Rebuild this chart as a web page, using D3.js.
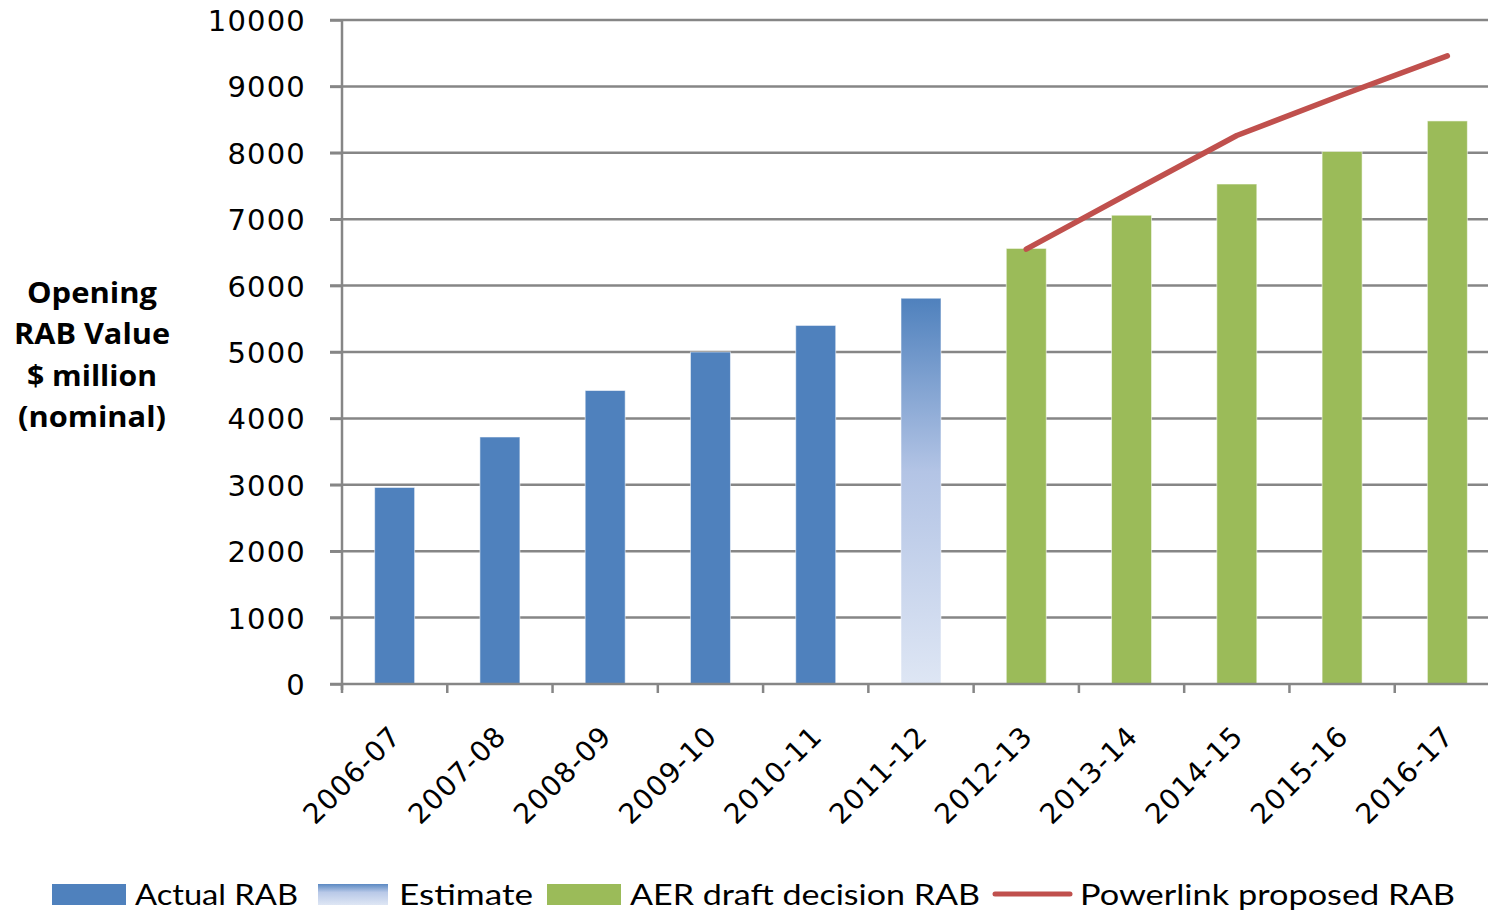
<!DOCTYPE html>
<html>
<head>
<meta charset="utf-8">
<script src="https://cdn.jsdelivr.net/npm/d3@7"></script>
<style>
  html, body { margin: 0; padding: 0; background: #fff; }
  svg { display: block; }
</style>
</head>
<body>
<svg id="chart" width="1488" height="912"></svg>
<script>
// Financial years
const years = ["2006-07","2007-08","2008-09","2009-10","2010-11","2011-12",
               "2012-13","2013-14","2014-15","2015-16","2016-17"];
// Opening RAB, $ million (nominal)
const actualRAB   = [2960, 3720, 4420, 5000, 5400, null, null, null, null, null, null];
const estimateRAB = [null, null, null, null, null, 5810, null, null, null, null, null];
const aerDraftRAB = [null, null, null, null, null, null, 6560, 7060, 7530, 8020, 8480];
const powerlinkRAB = [null, null, null, null, null, null, 6550, 7410, 8260, 8870, 9460];
const yTicks = [0,1000,2000,3000,4000,5000,6000,7000,8000,9000,10000];
const legendLabels = ["Actual RAB", "Estimate", "AER draft decision RAB", "Powerlink proposed RAB"];
const titleLines = ["Opening", "RAB Value", "$ million", "(nominal)"];

(function () {
const svg = d3.select("#chart");
const plotLeft = 342, plotRight = 1500, plotTop = 20, plotBottom = 684;
const gridColor = "#868686";

const x = d3.scaleBand().domain(years).range([plotLeft, plotRight]).paddingInner(0.62).paddingOuter(0.31);
const xEdge = d3.scaleBand().domain(years).range([plotLeft, plotRight]);
const y = d3.scaleLinear().domain([0, 10000]).range([plotBottom, plotTop]);

// Gradients for the estimate bar and its legend swatch
const defs = svg.append("defs");
const grad = defs.append("linearGradient").attr("id", "estGrad")
  .attr("x1", 0).attr("y1", 0).attr("x2", 0).attr("y2", 1);
grad.append("stop").attr("offset", "0%").attr("stop-color", "#4F81BD");
grad.append("stop").attr("offset", "45%").attr("stop-color", "#B3C4E5");
grad.append("stop").attr("offset", "100%").attr("stop-color", "#DEE6F4");
const grad2 = defs.append("linearGradient").attr("id", "estGradLegend")
  .attr("x1", 0).attr("y1", 0).attr("x2", 0).attr("y2", 1);
grad2.append("stop").attr("offset", "0%").attr("stop-color", "#5B89C2");
grad2.append("stop").attr("offset", "40%").attr("stop-color", "#B9C9E8");
grad2.append("stop").attr("offset", "100%").attr("stop-color", "#DEE6F4");

// Horizontal grid lines
svg.append("g").selectAll("line").data(yTicks.slice(1)).join("line")
  .attr("x1", plotLeft - 12).attr("x2", 1488)
  .attr("y1", d => y(d)).attr("y2", d => y(d))
  .attr("stroke", gridColor).attr("stroke-width", 2.5);

// Y axis
const yAxis = svg.append("g").attr("transform", `translate(${plotLeft},0)`)
  .call(d3.axisLeft(y).tickValues(yTicks).tickSize(12).tickPadding(24).tickFormat(d3.format("d")));
yAxis.select(".domain").attr("stroke", gridColor).attr("stroke-width", 2.5)
  .attr("d", `M0,${plotTop}V${plotBottom + 6}`);
yAxis.selectAll(".tick line").attr("stroke", gridColor).attr("stroke-width", 2.5);
yAxis.selectAll(".tick text")
  .attr("font-family", "DejaVu Sans").attr("font-size", 29).attr("fill", "#000")
  .attr("letter-spacing", "1.2px").attr("dy", "0.36em");

// Bars
function bars(values, fill, cls) {
  svg.append("g").attr("class", cls).selectAll("rect")
    .data(years.map((yr, i) => ({yr, v: values[i]})).filter(d => d.v != null))
    .join("rect")
    .attr("x", d => x(d.yr)).attr("width", x.bandwidth())
    .attr("y", d => y(d.v)).attr("height", d => y(0) - y(d.v))
    .attr("fill", fill).attr("stroke", "rgba(255,255,255,0.55)").attr("stroke-width", 1);
}
bars(actualRAB, "#4F81BD", "actual");
bars(estimateRAB, "url(#estGrad)", "estimate");
bars(aerDraftRAB, "#9BBB59", "aer");

// X axis line and category boundary ticks
const xAxisLine = svg.append("g");
xAxisLine.append("line").attr("x1", plotLeft - 12).attr("x2", 1488)
  .attr("y1", plotBottom).attr("y2", plotBottom).attr("stroke", gridColor).attr("stroke-width", 2.5);
xAxisLine.selectAll("line.tk").data(years.concat(["end"])).join("line").attr("class", "tk")
  .attr("x1", (d, i) => plotLeft + i * xEdge.step()).attr("x2", (d, i) => plotLeft + i * xEdge.step())
  .attr("y1", plotBottom).attr("y2", plotBottom + 9)
  .attr("stroke", gridColor).attr("stroke-width", 2.5);

// Rotated category labels
svg.append("g").selectAll("text").data(years).join("text")
  .attr("transform", d => `translate(${x(d) + x.bandwidth() / 2 + 8},${plotBottom + 54}) rotate(-45)`)
  .attr("text-anchor", "end")
  .attr("font-family", "DejaVu Sans").attr("font-size", 28).attr("fill", "#000")
  .attr("letter-spacing", "1px")
  .text(d => d);

// Powerlink proposed line
const lineData = years.map((yr, i) => ({yr, v: powerlinkRAB[i]})).filter(d => d.v != null);
svg.append("path").datum(lineData)
  .attr("d", d3.line().x(d => x(d.yr) + x.bandwidth() / 2).y(d => y(d.v)))
  .attr("fill", "none").attr("stroke", "#C0504D").attr("stroke-width", 5.5)
  .attr("stroke-linecap", "round").attr("stroke-linejoin", "round");

// Y axis title
const titleWidths = [130, 156, 130, 148];
svg.append("g").selectAll("text").data(titleLines).join("text")
  .attr("x", 92).attr("y", (d, i) => 303 + i * 41.3)
  .attr("text-anchor", "middle")
  .attr("font-family", "Open Sans").attr("font-weight", "bold").attr("font-size", 28)
  .attr("textLength", (d, i) => titleWidths[i]).attr("lengthAdjust", "spacingAndGlyphs")
  .attr("fill", "#000").text(d => d);

// Legend
const legend = svg.append("g");
const items = [
  {sx: 52, sw: 74, fill: "#4F81BD", tx: 135, tw: 163},
  {sx: 318, sw: 70, fill: "url(#estGradLegend)", tx: 399, tw: 134},
  {sx: 547, sw: 74, fill: "#9BBB59", tx: 630, tw: 350},
  {sx: 995, sw: 75, line: true, tx: 1080, tw: 375}
];
items.forEach((it, i) => {
  if (it.line) {
    legend.append("line").attr("x1", it.sx).attr("x2", it.sx + it.sw)
      .attr("y1", 894).attr("y2", 894)
      .attr("stroke", "#C0504D").attr("stroke-width", 5).attr("stroke-linecap", "round");
  } else {
    legend.append("rect").attr("x", it.sx).attr("y", 884).attr("width", it.sw).attr("height", 21)
      .attr("fill", it.fill);
  }
  legend.append("text").attr("x", it.tx).attr("y", 905)
    .attr("font-family", "Lato").attr("font-size", 29).attr("fill", "#000")
    .attr("textLength", it.tw).attr("lengthAdjust", "spacingAndGlyphs")
    .text(legendLabels[i]);
});
})();
</script>
</body>
</html>
